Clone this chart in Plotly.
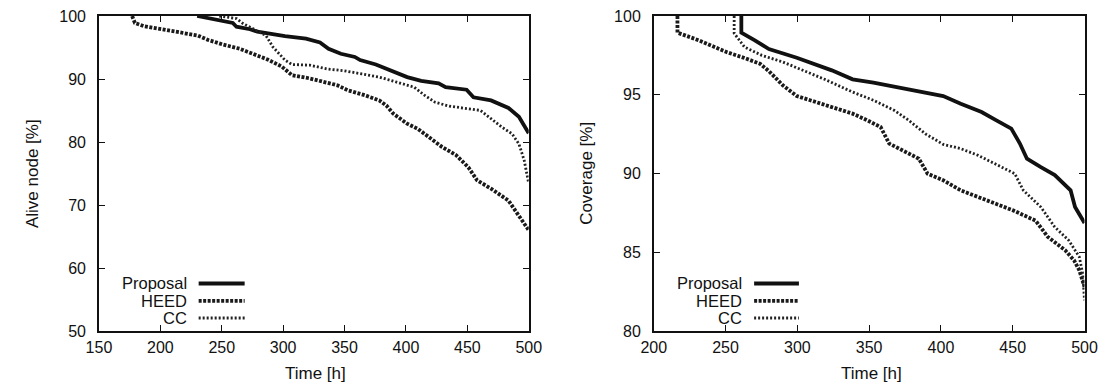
import plotly.graph_objects as go

# ---- data: left panel (Alive node [%]) ----
alive_prop_t = [230, 250, 259, 262, 273, 279, 287, 301.5, 318.6, 330, 337, 347, 358.4, 362.7, 375.5, 386.8, 401, 412.4, 426.6, 432.3, 449.4, 455, 469.3, 483.5, 492, 500]
alive_prop_v = [100, 99.2, 98.9, 98.3, 97.9, 97.5, 97.2, 96.8, 96.4, 95.8, 94.8, 94.0, 93.5, 93.0, 92.3, 91.4, 90.3, 89.7, 89.3, 88.7, 88.3, 87.1, 86.6, 85.4, 84.0, 81.4]

alive_heed_t = [177, 179.3, 186.4, 199, 216.2, 230.5, 239, 250.4, 264.6, 276, 287.3, 298.7, 307.2, 321.5, 332.8, 344.2, 352.7, 366.9, 378.3, 384, 389.7, 401, 409.6, 421, 429.5, 440.9, 450.8, 458, 469.3, 483.5, 492, 500]
alive_heed_v = [100, 98.9, 98.4, 98.0, 97.5, 96.9, 96.2, 95.5, 94.8, 94.0, 93.1, 92.0, 90.6, 90.1, 89.5, 89.0, 88.2, 87.4, 86.6, 85.8, 84.5, 82.9, 82.1, 80.5, 79.2, 77.9, 76.0, 73.9, 72.6, 70.7, 68.3, 66.0]

alive_cc_t = [248, 262, 267.4, 278.8, 286, 291.6, 301.5, 307.2, 321.5, 335.7, 349.9, 364.1, 378.3, 392.5, 406.7, 415.3, 423.8, 435.2, 449.4, 460.8, 469.3, 477.8, 486.4, 492, 496.3, 500]
alive_cc_v = [100, 99.6, 98.8, 97.7, 96.9, 95.1, 93.0, 92.3, 92.2, 91.6, 91.3, 90.8, 90.3, 89.5, 88.7, 87.4, 86.3, 85.7, 85.3, 85.0, 83.7, 82.4, 81.3, 79.7, 77.1, 73.4]

# ---- data: right panel (Coverage [%]) ----
cov_prop_t = [261, 261, 270.4, 280.2, 299.6, 314.2, 324, 338.5, 353, 377.3, 401.6, 413.8, 428.3, 438, 449, 455, 459.9, 469.6, 479.3, 490.3, 493.4, 500]
cov_prop_v = [100, 98.94, 98.45, 97.9, 97.35, 96.87, 96.55, 95.98, 95.77, 95.34, 94.92, 94.43, 93.9, 93.4, 92.85, 91.9, 90.94, 90.4, 89.9, 88.93, 87.87, 86.86]

cov_heed_t = [216.5, 216.5, 231.6, 251, 263.2, 274, 280.2, 289.9, 299.6, 309.3, 323.9, 338.5, 348.2, 358, 364, 377.3, 384.6, 390.7, 401.6, 413.8, 425.9, 438, 450.2, 466, 474.5, 486.6, 492.7, 496.4, 498.8, 500]
cov_heed_v = [100, 98.94, 98.45, 97.7, 97.33, 96.97, 96.5, 95.6, 94.92, 94.65, 94.26, 93.8, 93.4, 92.95, 91.9, 91.3, 90.94, 89.99, 89.57, 88.93, 88.5, 88.04, 87.66, 87.0, 85.97, 85.12, 84.49, 83.85, 83.0, 82.8]

cov_cc_t = [256, 256, 263.2, 275.3, 289.9, 304.4, 319, 338.5, 353, 367.6, 377.3, 389.5, 401.6, 413.8, 425.9, 438, 451.4, 457.4, 469.6, 479.3, 489, 496.4, 498.8, 500]
cov_cc_v = [100, 98.9, 98.03, 97.5, 97.08, 96.55, 95.98, 95.17, 94.65, 94.0, 93.4, 92.5, 91.85, 91.58, 91.15, 90.6, 89.99, 88.93, 87.87, 86.6, 85.76, 84.7, 83.6, 81.95]

series_names = ["Proposal", "HEED", "CC"]
x_ticks_left = [150, 200, 250, 300, 350, 400, 450, 500]
y_ticks_left = [50, 60, 70, 80, 90, 100]
x_ticks_right = [200, 250, 300, 350, 400, 450, 500]
y_ticks_right = [80, 85, 90, 95, 100]

styles = {
    "Proposal": dict(color="#111111", width=3.8, dash="solid"),
    "HEED": dict(color="#1a1a1a", width=3.8, dash="3px,1.5px"),
    "CC": dict(color="#222222", width=2.8, dash="2px,2px"),
}

FONT = "Liberation Sans, Arial, Helvetica, sans-serif"
TICK_SIZE = 16
TITLE_SIZE = 17
LEGEND_SIZE = 16.5
fig = go.Figure()

left = [(alive_prop_t, alive_prop_v), (alive_heed_t, alive_heed_v), (alive_cc_t, alive_cc_v)]
right = [(cov_prop_t, cov_prop_v), (cov_heed_t, cov_heed_v), (cov_cc_t, cov_cc_v)]

for name, (t, v) in zip(series_names, left):
    fig.add_trace(go.Scatter(x=t, y=v, mode="lines", name=name, line=styles[name],
                             xaxis="x", yaxis="y", showlegend=False))
for name, (t, v) in zip(series_names, right):
    fig.add_trace(go.Scatter(x=t, y=v, mode="lines", name=name, line=styles[name],
                             xaxis="x2", yaxis="y2", showlegend=False))

W, H = 1119, 384
L1, R1 = 88, 528
L2, R2 = 656, 1097
TOP, BOT = 16, 331
PH = BOT - TOP

axis_common = dict(showgrid=False, zeroline=False, showline=True, linecolor="#111111", linewidth=1.5,
                   mirror="ticks", ticks="inside", ticklen=6, tickwidth=1.2, tickcolor="#111111",
                   tickfont=dict(family=FONT, size=TICK_SIZE, color="#111111"))

fig.update_layout(
    width=W, height=H,
    margin=dict(l=0, r=0, t=TOP, b=H - BOT),
    paper_bgcolor="white", plot_bgcolor="white",
    font=dict(family=FONT, size=TICK_SIZE, color="#111111"),
    xaxis=dict(domain=[L1 / W, R1 / W], range=[150, 500], tickvals=x_ticks_left, anchor="y",
               ticklabelstandoff=1, **axis_common),
    yaxis=dict(domain=[0, 1], range=[50, 100], tickvals=y_ticks_left, anchor="x",
               ticklabelstandoff=8, **axis_common),
    xaxis2=dict(domain=[L2 / W, R2 / W], range=[200, 500], tickvals=x_ticks_right, anchor="y2",
                ticklabelstandoff=1, **axis_common),
    yaxis2=dict(domain=[0, 1], range=[80, 100], tickvals=y_ticks_right, anchor="x2",
                ticklabelstandoff=8, **axis_common),
)

annotations = []
shapes = []
# axis titles (paper y measured from the plot-area bottom)
title_y = (BOT - 373) / PH
annotations.append(dict(text="Time [h]", xref="paper", yref="paper", x=((L1 + R1) / 2 + 2) / W, y=title_y,
                        xanchor="center", yanchor="middle", showarrow=False, font=dict(size=TITLE_SIZE)))
annotations.append(dict(text="Time [h]", xref="paper", yref="paper", x=((L2 + R2) / 2 + 2) / W, y=title_y,
                        xanchor="center", yanchor="middle", showarrow=False, font=dict(size=TITLE_SIZE)))
annotations.append(dict(text="Alive node [%]", xref="paper", yref="paper", x=20 / W, y=0.5, textangle=-90,
                        xanchor="center", yanchor="middle", showarrow=False, font=dict(size=TITLE_SIZE)))
annotations.append(dict(text="Coverage [%]", xref="paper", yref="paper", x=587 / W, y=0.5, textangle=-90,
                        xanchor="center", yanchor="middle", showarrow=False, font=dict(size=TITLE_SIZE)))

# gnuplot-style legends (text right, sample to the right)
leg_y = [0.1508, 0.0959, 0.0413]
for xa, ya, tx, s0, s1 in [("x", "y", 0.207, 0.232, 0.339), ("x2", "y2", 0.207, 0.233, 0.337)]:
    for name, yy in zip(series_names, leg_y):
        annotations.append(dict(text=name, xref=xa + " domain", yref=ya + " domain", x=tx, y=yy,
                                xanchor="right", yanchor="middle", showarrow=False, font=dict(size=LEGEND_SIZE),
                                borderpad=0))
        shapes.append(dict(type="line", xref=xa + " domain", yref=ya + " domain", x0=s0, x1=s1, y0=yy, y1=yy,
                           line=styles[name]))

fig.update_layout(annotations=annotations, shapes=shapes)
fig.write_html("out.html")
